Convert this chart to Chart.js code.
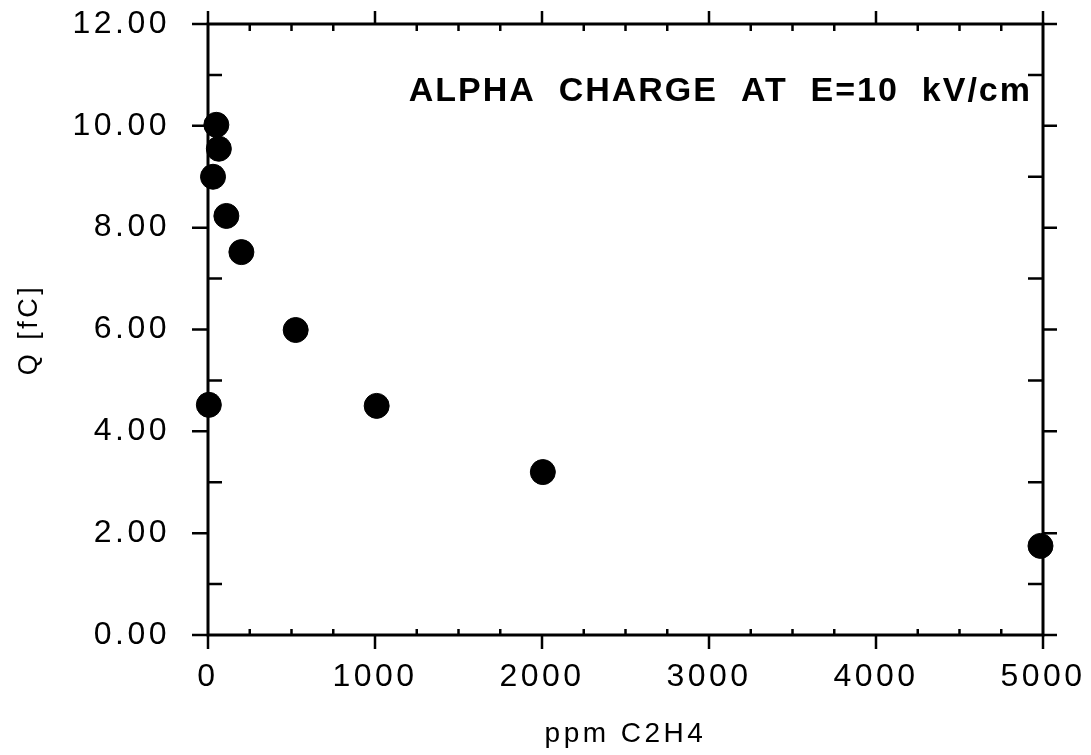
<!DOCTYPE html>
<html lang="en">
  <head>
    <meta charset="UTF-8" />
    <title>Alpha charge vs C2H4</title>
    <script src="https://cdn.jsdelivr.net/npm/chart.js"></script>
    <style>
      body {
        margin: 0;
        background: #fff;
      }
      .wrap {
        width: 1091px;
        height: 755px;
      }
    </style>
  </head>
  <body>
    <div class="wrap"><canvas id="chart" width="1091" height="755"></canvas></div>

    <script>
      // values
      const ppm = [5, 30, 50, 65, 110, 200, 525, 1010, 2005, 4985];
      const charge = [4.52, 9.0, 10.02, 9.55, 8.23, 7.52, 5.99, 4.5, 3.2, 1.75];
      const xTicks = [0, 1000, 2000, 3000, 4000, 5000];
      const yTicks = [0, 2, 4, 6, 8, 10, 12];
      const title = "ALPHA  CHARGE  AT  E=10  kV/cm";

      const FONT = "'Liberation Sans', Arial, sans-serif";

      // frame, inward minor ticks and outward major ticks on all four sides
      const framePlugin = {
        id: "frame",
        beforeDraw(chart) {
          chart.ctx.letterSpacing = "3.5px";
        },
        afterDraw(chart) {
          const { ctx, chartArea: a, scales } = chart;
          const x = scales.x, y = scales.y;
          ctx.save();
          ctx.letterSpacing = "0px";
          ctx.strokeStyle = "#000";
          ctx.lineWidth = 3;
          ctx.strokeRect(a.left, a.top, a.right - a.left, a.bottom - a.top);
          ctx.lineWidth = 2.5;
          ctx.beginPath();
          for (let v = 0; v <= 5000; v += 250) {
            const px = x.getPixelForValue(v);
            if (v % 1000 === 0) {
              ctx.moveTo(px, a.bottom); ctx.lineTo(px, a.bottom + 14);
              ctx.moveTo(px, a.top); ctx.lineTo(px, a.top - 13);
            } else {
              ctx.moveTo(px, a.bottom); ctx.lineTo(px, a.bottom - 6);
              ctx.moveTo(px, a.top); ctx.lineTo(px, a.top + 7);
            }
          }
          for (let v = 0; v <= 12; v += 1) {
            const py = y.getPixelForValue(v);
            if (v % 2 === 0) {
              ctx.moveTo(a.left, py); ctx.lineTo(a.left - 16, py);
              ctx.moveTo(a.right, py); ctx.lineTo(a.right + 14, py);
            } else {
              ctx.moveTo(a.left, py); ctx.lineTo(a.left + 14, py);
              ctx.moveTo(a.right, py); ctx.lineTo(a.right - 15, py);
            }
          }
          ctx.stroke();

          // caption inside the plot
          ctx.fillStyle = "#000";
          ctx.font = "bold 34px " + FONT;
          ctx.letterSpacing = "2px";
          ctx.textAlign = "right";
          ctx.textBaseline = "alphabetic";
          ctx.fillText(title, a.right - 11, a.top + 77);
          ctx.restore();
        },
      };

      new Chart(document.getElementById("chart"), {
        type: "scatter",
        data: {
          datasets: [
            {
              data: ppm.map((v, i) => ({ x: v, y: charge[i] })),
              backgroundColor: "#000",
              borderColor: "#000",
              pointRadius: 12.5,
              pointHoverRadius: 12.5,
              clip: false,
            },
          ],
        },
        options: {
          responsive: false,
          animation: false,
          layout: { padding: { left: 0, right: 48, top: 24, bottom: 0 } },
          plugins: { legend: { display: false }, tooltip: { enabled: false } },
          scales: {
            x: {
              type: "linear",
              min: 0,
              max: 5000,
              afterFit: (s) => {
                s.height = 120;
                s.paddingLeft = 0;
                s.paddingRight = 0;
              },
              afterBuildTicks: (s) => { s.ticks = xTicks.map((v) => ({ value: v })); },
              grid: { display: false, drawTicks: false },
              border: { display: false },
              ticks: {
                color: "#000",
                padding: 23,
                maxRotation: 0,
                font: { family: FONT, size: 32 },
                callback: (v) => String(v),
              },
              title: {
                display: true,
                text: "ppm C2H4",
                color: "#000",
                padding: { top: 10 },
                font: { family: FONT, size: 28 },
              },
            },
            y: {
              type: "linear",
              min: 0,
              max: 12,
              afterFit: (s) => {
                s.width = 208;
                s.paddingTop = 0;
                s.paddingBottom = 0;
              },
              afterBuildTicks: (s) => { s.ticks = yTicks.map((v) => ({ value: v })); },
              grid: { display: false, drawTicks: false },
              border: { display: false },
              ticks: {
                color: "#000",
                padding: 38,
                font: { family: FONT, size: 32 },
                callback: (v) => Number(v).toFixed(2),
              },
              title: {
                display: true,
                text: "Q [fC]",
                color: "#000",
                padding: { top: 13 },
                font: { family: FONT, size: 27 },
              },
            },
          },
        },
        plugins: [framePlugin],
      });
    </script>
  </body>
</html>
